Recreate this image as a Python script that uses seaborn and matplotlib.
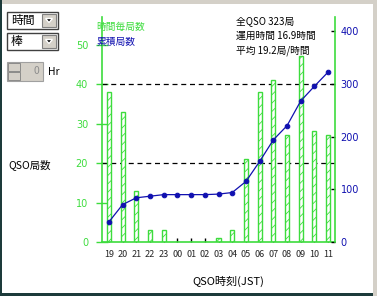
import matplotlib
matplotlib.use("Agg")
import matplotlib.pyplot as plt
import seaborn as sns
import pandas as pd
from matplotlib.patches import Rectangle, Polygon

hours = ["19", "20", "21", "22", "23", "00", "01", "02", "03", "04",
         "05", "06", "07", "08", "09", "10", "11"]
hourly = [38, 33, 13, 3, 3, 0, 0, 0, 1, 3, 21, 38, 41, 27, 47, 28, 27]
cumulative = [38, 71, 84, 87, 90, 90, 90, 90, 91, 94, 115, 153, 194, 221, 268, 296, 323]
left_ticks = [0, 10, 20, 30, 40, 50]
right_ticks = [0, 100, 200, 300, 400]

sns.set_theme(style="white")
plt.rcParams["font.family"] = ["Noto Sans CJK JP", "DejaVu Sans"]
plt.rcParams["hatch.linewidth"] = 0.6

GREEN = "#3ddc3d"
NAVY = "#1010b0"

df = pd.DataFrame({"hour": hours, "hourly": hourly, "cum": cumulative})
df["pos"] = range(len(hours))

fig = plt.figure(figsize=(3.77, 2.96), dpi=100)
fig.patch.set_facecolor("white")
ax = fig.add_axes([102 / 377, 1 - 242 / 296, (335 - 102) / 377, (242 - 17) / 296])
ax.set_facecolor("white")

sns.barplot(data=df, x="hour", y="hourly", ax=ax, width=0.3, color="white",
            edgecolor=GREEN, linewidth=1.0, zorder=2)
for p in ax.patches:
    p.set_hatch("////")
    p.set_edgecolor(GREEN)

for yv in [20, 40]:
    ax.axhline(yv, color="black", lw=0.9, ls=(0, (4, 3)), zorder=1)

ax.set_xlim(-0.5, 16.5)
ax.set_ylim(0, 57)
ax.set_yticks(left_ticks)
ax.set_yticklabels([str(t) for t in left_ticks], color=GREEN, fontsize=7,
                   family=["DejaVu Sans"])
ax.tick_params(axis="y", direction="inout", length=8, color=GREEN, width=1, pad=6, left=True)
ax.tick_params(axis="x", direction="in", length=3, color="black", width=1, pad=6,
               bottom=True, labelsize=6.5)
ax.set_axisbelow(True)
ax.set_xlabel("")
ax.set_ylabel("")
ax.spines["top"].set_visible(False)
ax.spines["left"].set_color(GREEN)
ax.spines["bottom"].set_color(GREEN)
ax.spines["right"].set_visible(False)
ax.spines["left"].set_linewidth(1.2)
ax.spines["bottom"].set_linewidth(1.2)

ax2 = ax.twinx()
sns.lineplot(data=df, x="pos", y="cum", ax=ax2, color=NAVY, lw=0.9, marker="o",
             markersize=3.3, markeredgecolor=NAVY, zorder=3)
ax2.set_ylim(0, 427.5)
ax2.set_yticks(right_ticks)
ax2.set_yticklabels([str(t) for t in right_ticks], color=NAVY, fontsize=7,
                    family=["DejaVu Sans"])
ax2.tick_params(axis="y", direction="in", length=3, color="black", width=1, pad=4, right=True)
ax2.set_ylabel("")
ax2.set_xlabel("")
for s in ["top", "left", "bottom"]:
    ax2.spines[s].set_visible(False)
ax2.spines["right"].set_color(GREEN)
ax2.spines["right"].set_linewidth(1.2)
ax2.set_xlim(-0.5, 16.5)

# texts
fig.text(228 / 377, 1 - 281 / 296, "QSO時刻(JST)", color="black", fontsize=8,
         va="center", ha="center")
fig.text(96 / 377, 1 - 27 / 296, "時間毎局数", color=GREEN, fontsize=7, va="center")
fig.text(96 / 377, 1 - 42 / 296, "累積局数", color=NAVY, fontsize=7, va="center")
fig.text(236 / 377, 1 - 21 / 296, "全QSO 323局", color="black", fontsize=7, va="center")
fig.text(236 / 377, 1 - 36 / 296, "運用時間 16.9時間", color="black", fontsize=7, va="center")
fig.text(236 / 377, 1 - 51 / 296, "平均 19.2局/時間", color="black", fontsize=7, va="center")
fig.text(8 / 377, 1 - 165 / 296, "QSO局数", color="black", fontsize=7.5, va="center")

# window frame
def frect(x, y, w, h, **kw):
    fig.patches.append(Rectangle((x / 377, 1 - (y + h) / 296), w / 377, h / 296,
                                 transform=fig.transFigure, **kw))

frect(0, 0, 377, 4, facecolor="#d4d0c8", edgecolor="none")
frect(0, 0, 2, 296, facecolor="#1d3b3b", edgecolor="none")
frect(0, 293, 377, 3, facecolor="#1d3b3b", edgecolor="none")
frect(373, 0, 4, 296, facecolor="#d4d0c8", edgecolor="none")

# combo boxes
for y0, label in [(12, "時間"), (33, "棒")]:
    frect(7, y0, 51, 17, facecolor="white", edgecolor="#404040", lw=1)
    frect(42, y0 + 2, 14, 13, facecolor="#d4d0c8", edgecolor="#808080", lw=0.8)
    tri_y = 1 - (y0 + 8.5) / 296
    fig.patches.append(Polygon([(45.5 / 377, tri_y + 2 / 296), (52.5 / 377, tri_y + 2 / 296),
                                (49 / 377, tri_y - 2 / 296)], closed=True,
                               transform=fig.transFigure, facecolor="black"))
    fig.text(11 / 377, 1 - (y0 + 8.5) / 296, label, fontsize=8.5, va="center", color="black")

# spinner
frect(7, 62, 36, 19, facecolor="#d4d0c8", edgecolor="#a0a0a0", lw=0.8)
frect(8, 63, 12, 8, facecolor="#d4d0c8", edgecolor="#808080", lw=0.6)
frect(8, 72, 12, 8, facecolor="#d4d0c8", edgecolor="#808080", lw=0.6)
fig.text(39 / 377, 1 - 71 / 296, "0", fontsize=7.5, va="center", ha="right", color="#8c8c8c")
fig.text(48 / 377, 1 - 72 / 296, "Hr", fontsize=7.5, va="center", color="black")

fig.savefig("out.png", dpi=100, facecolor=fig.get_facecolor())
